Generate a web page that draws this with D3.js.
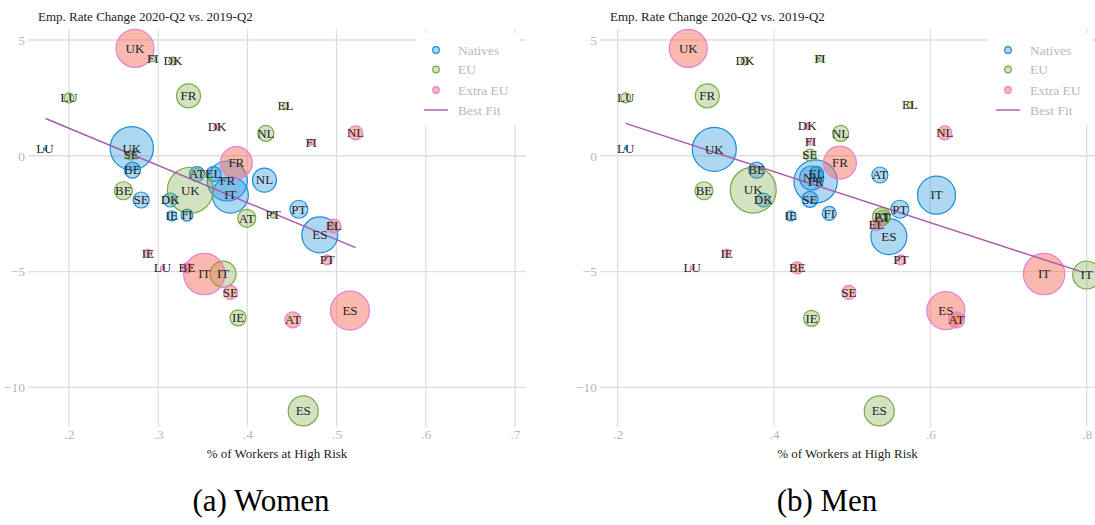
<!DOCTYPE html>
<html>
<head>
<meta charset="utf-8">
<script src="https://cdn.jsdelivr.net/npm/d3@7"></script>
<style>
  html, body { margin: 0; padding: 0; background: #fff; }
  svg { display: block; }
  svg text { font-family: "Liberation Serif", "Tinos", "Times New Roman", "Times", "DejaVu Serif", serif !important; }
</style>
</head>
<body>
<svg id="chart" width="1095" height="525"></svg>
<script>
// ---------- DATA ----------
// each row: [country, share of workers at high risk, emp. rate change (pp), weight]
const groups = ["Natives", "EU", "Extra EU"];

const womenNatives = [
  ["LU", 0.173, 0.29, 2], ["UK", 0.2704, 0.32, 470], ["BE", 0.2711, -0.62, 64],
  ["AT", 0.3435, -0.79, 56], ["EL", 0.362, -0.79, 56], ["FR", 0.3775, -1.09, 400],
  ["IT", 0.3809, -1.70, 324], ["NL", 0.4191, -1.05, 144], ["SE", 0.2809, -1.91, 64],
  ["DK", 0.3135, -1.91, 49], ["IE", 0.3154, -2.60, 25], ["FI", 0.3322, -2.56, 36],
  ["PT", 0.4577, -2.31, 81], ["ES", 0.4812, -3.42, 324]
];
const womenEU = [
  ["FI", 0.294, 4.20, 9], ["DK", 0.3165, 4.09, 16], ["LU", 0.200, 2.50, 25],
  ["FR", 0.334, 2.59, 144], ["NL", 0.4207, 0.97, 64], ["EL", 0.4427, 2.15, 9],
  ["SE", 0.2697, 0.03, 25], ["UK", 0.336, -1.49, 529], ["BE", 0.261, -1.51, 81],
  ["PT", 0.4289, -2.56, 9], ["AT", 0.3993, -2.70, 81], ["IT", 0.3727, -5.11, 169],
  ["IE", 0.3895, -7.00, 64], ["ES", 0.4626, -11.02, 225]
];
const womenExtraEU = [
  ["UK", 0.274, 4.64, 361], ["DK", 0.366, 1.25, 9], ["FI", 0.4715, 0.58, 9],
  ["NL", 0.5213, 0.99, 49], ["FR", 0.3876, -0.30, 256], ["EL", 0.497, -3.04, 49],
  ["PT", 0.4895, -4.50, 25], ["IE", 0.2884, -4.21, 16], ["LU", 0.3048, -4.84, 4],
  ["BE", 0.3322, -4.84, 25], ["IT", 0.3517, -5.11, 428], ["SE", 0.381, -5.90, 49],
  ["AT", 0.451, -7.09, 64], ["ES", 0.515, -6.69, 380]
];
const womenFit = [[0.1738, 1.61], [0.5213, -3.97]];

const menNatives = [
  ["LU", 0.2102, 0.32, 2], ["UK", 0.3236, 0.28, 484], ["BE", 0.3778, -0.62, 64],
  ["DK", 0.3862, -1.91, 49], ["FR", 0.4532, -1.11, 470], ["NL", 0.4481, -0.96, 144],
  ["EL", 0.4545, -0.76, 49], ["SE", 0.4459, -1.88, 64], ["IE", 0.4216, -2.60, 25],
  ["FI", 0.4706, -2.49, 49], ["AT", 0.5354, -0.83, 64], ["PT", 0.5610, -2.31, 81],
  ["IT", 0.6079, -1.70, 361], ["ES", 0.5469, -3.49, 324]
];
const menEU = [
  ["DK", 0.3628, 4.09, 16], ["FI", 0.4587, 4.20, 9], ["LU", 0.2102, 2.50, 25],
  ["FR", 0.3146, 2.59, 144], ["EL", 0.5738, 2.19, 9], ["NL", 0.4852, 0.97, 64],
  ["SE", 0.4459, 0.03, 36], ["BE", 0.3104, -1.51, 81], ["UK", 0.3734, -1.48, 529],
  ["AT", 0.5390, -2.66, 49], ["PT", 0.5376, -2.63, 81], ["IT", 0.800, -5.15, 196],
  ["IE", 0.448, -7.02, 64], ["ES", 0.5346, -11.02, 225]
];
const menExtraEU = [
  ["UK", 0.2903, 4.64, 361], ["DK", 0.4425, 1.28, 9], ["FI", 0.4468, 0.60, 9],
  ["NL", 0.6185, 0.99, 49], ["FR", 0.4843, -0.30, 272], ["EL", 0.531, -2.97, 36],
  ["PT", 0.5623, -4.50, 25], ["IE", 0.3394, -4.21, 16], ["LU", 0.2954, -4.84, 4],
  ["BE", 0.4297, -4.84, 36], ["SE", 0.4958, -5.90, 49], ["ES", 0.6198, -6.69, 361],
  ["AT", 0.6335, -7.09, 64], ["IT", 0.7455, -5.11, 428]
];
const menFit = [[0.2102, 1.40], [0.7967, -5.05]];

const womenXTicks = [0.2, 0.3, 0.4, 0.5, 0.6, 0.7];
const menXTicks = [0.2, 0.4, 0.6, 0.8];
const yTicks = [5, 0, -5, -10];

const chartTitle = "Emp. Rate Change 2020-Q2 vs. 2019-Q2";
const xTitle = "% of Workers at High Risk";
const legendLabels = ["Natives", "EU", "Extra EU", "Best Fit"];
const captions = ["(a) Women", "(b) Men"];

// ---------- STYLE ----------
const styles = {
  "Natives":  { fill: "rgb(42,150,220)",  fillOpacity: 0.38, stroke: "#1a8ed8" },
  "EU":       { fill: "rgb(120,170,70)",  fillOpacity: 0.33, stroke: "#78aa46" },
  "Extra EU": { fill: "rgb(242,100,78)",  fillOpacity: 0.45, stroke: "#e77fdc" }
};
const fitColor = "#a957a9";
const gridColor = "#dedede";
const tickColor = "#b8b8b8";

const svg = d3.select("#chart");
svg.append("rect").attr("width", 1095).attr("height", 525).attr("fill", "#fff");

const rScale = d3.scaleSqrt().domain([0, 529]).range([0, 23]);
const fmtTick = d => d3.format(".1f")(d).replace(/^0/, "");

const panels = [
  { data: [womenNatives, womenEU, womenExtraEU], fit: womenFit, xTicks: womenXTicks,
    xDomain: [0.2, 0.7], xRange: [69, 515], left: 28, right: 526, legendX: 416,
    caption: captions[0], captionX: 261 },
  { data: [menNatives, menEU, menExtraEU], fit: menFit, xTicks: menXTicks,
    xDomain: [0.2, 0.8], xRange: [617.7, 1086.7], left: 600, right: 1095, legendX: 988,
    caption: captions[1], captionX: 827 }
];

const yScale = d3.scaleLinear().domain([5, -10]).range([40, 387.3]);
const plotTop = 29, plotBottom = 427;

panels.forEach(p => {
  const x = d3.scaleLinear().domain(p.xDomain).range(p.xRange);
  const g = svg.append("g");

  // grid
  const grid = g.append("g");
  grid.selectAll("line.v").data(p.xTicks).join("line")
    .attr("x1", d => x(d)).attr("x2", d => x(d))
    .attr("y1", plotTop).attr("y2", plotBottom)
    .attr("stroke", gridColor).attr("stroke-width", 1.3);
  grid.selectAll("line.h").data(yTicks).join("line")
    .attr("x1", p.left).attr("x2", p.right)
    .attr("y1", d => yScale(d)).attr("y2", d => yScale(d))
    .attr("stroke", gridColor).attr("stroke-width", 1.3);

  // y axis labels
  const yAxis = d3.axisLeft(yScale).tickValues(yTicks).tickSize(0).tickPadding(0);
  const ya = g.append("g").attr("transform", `translate(${p.left - 3},0)`).call(yAxis);
  ya.select(".domain").remove();
  ya.selectAll("text").attr("fill", tickColor).attr("font-size", 13.5);

  // x axis labels
  const xAxis = d3.axisBottom(x).tickValues(p.xTicks).tickFormat(fmtTick).tickSize(0).tickPadding(0);
  const xa = g.append("g").attr("transform", `translate(0,${plotBottom + 2})`).call(xAxis);
  xa.select(".domain").remove();
  xa.selectAll("text").attr("fill", tickColor).attr("font-size", 13.5);

  // titles
  g.append("text").attr("x", p.left + 10).attr("y", 21)
    .attr("font-size", 13).attr("fill", "#222").text(chartTitle);
  g.append("text").attr("x", (p.left + p.right) / 2).attr("y", 458)
    .attr("text-anchor", "middle").attr("font-size", 13).attr("fill", "#222").text(xTitle);
  g.append("text").attr("x", p.captionX).attr("y", 511)
    .attr("text-anchor", "middle").attr("font-size", 31).attr("fill", "#000").text(p.caption);

  // legend box
  const lg = g.append("g");
  lg.append("rect").attr("x", p.legendX).attr("y", 33).attr("width", 104).attr("height", 92)
    .attr("fill", "#fff");
  const ly = [50, 69.5, 90, 110];
  groups.forEach((grp, i) => {
    const s = styles[grp];
    lg.append("circle").attr("cx", p.legendX + 20).attr("cy", ly[i]).attr("r", 3.3)
      .attr("fill", s.fill).attr("fill-opacity", s.fillOpacity)
      .attr("stroke", s.stroke).attr("stroke-width", 1.2);
  });
  lg.append("line").attr("x1", p.legendX + 8).attr("x2", p.legendX + 32)
    .attr("y1", ly[3]).attr("y2", ly[3]).attr("stroke", fitColor).attr("stroke-width", 1.4);
  legendLabels.forEach((t, i) => {
    lg.append("text").attr("x", p.legendX + 42).attr("y", ly[i] + 4.5)
      .attr("font-size", 13.5).attr("fill", tickColor).text(t);
  });

  // bubbles
  p.data.forEach((rows, gi) => {
    const s = styles[groups[gi]];
    const bg = g.append("g");
    bg.selectAll("circle").data(rows).join("circle")
      .attr("cx", d => x(d[1])).attr("cy", d => yScale(d[2]))
      .attr("r", d => Math.max(1.2, rScale(d[3])))
      .attr("fill", s.fill).attr("fill-opacity", s.fillOpacity)
      .attr("stroke", s.stroke).attr("stroke-width", 1.2);
  });

  // fit line
  const line = d3.line().x(d => x(d[0])).y(d => yScale(d[1]));
  g.append("path").datum(p.fit).attr("d", line)
    .attr("fill", "none").attr("stroke", fitColor).attr("stroke-width", 1.4);

  // labels
  p.data.forEach(rows => {
    g.append("g").selectAll("text").data(rows).join("text")
      .attr("x", d => x(d[1])).attr("y", d => yScale(d[2]) + 4.3)
      .attr("text-anchor", "middle").attr("font-size", 13).attr("fill", "#222")
      .text(d => d[0]);
  });
});
</script>
</body>
</html>
